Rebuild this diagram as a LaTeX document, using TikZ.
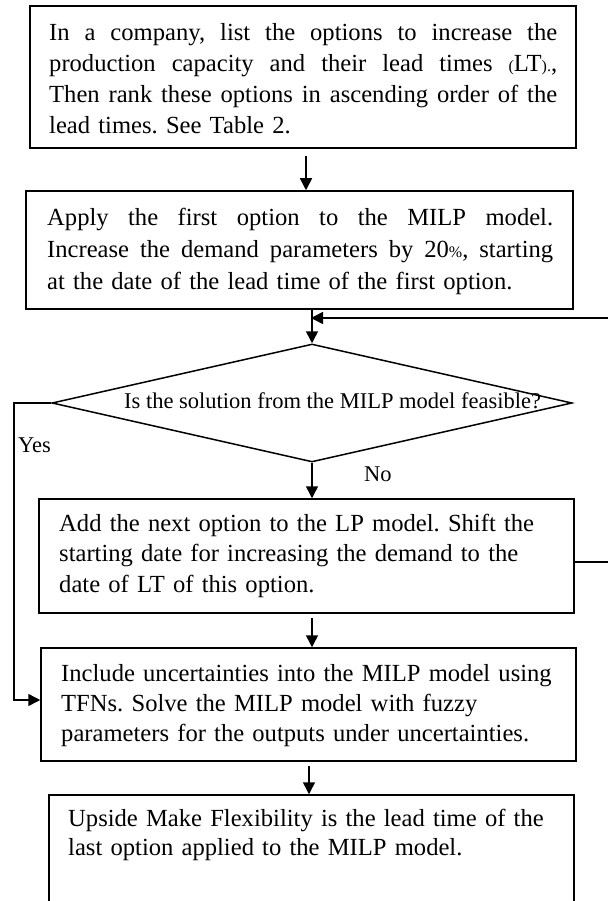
\documentclass[tikz,border=0pt]{standalone}
\usepackage{fontspec}
\setmainfont{Liberation Serif}
\usetikzlibrary{arrows.meta,shapes.geometric}
\frenchspacing

% smaller glyphs inside a line (brackets, percent sign)
\newcommand{\smg}[1]{{\fontsize{16pt}{16pt}\selectfont #1}}
% a fully justified line of given width: every word gap stretches equally
\newcommand{\jline}[2]{\leavevmode\hbox to #1{\spaceskip=0.25em plus 1fil\relax
  \xspaceskip=0.25em plus 1fil\relax #2}}
% strut that fixes the height of a first line
\newcommand{\topstrut}{\rule{0pt}{20pt}}

\begin{document}
\begin{tikzpicture}[x=1pt,y=1pt,
  box/.style={draw, line width=1.5pt, rectangle, inner sep=0pt},
  body/.style={anchor=north west, inner sep=0pt, align=left, text width=535pt,
               font=\fontsize{24.6pt}{#1}\selectfont},
  lbl/.style={anchor=base west, inner sep=0pt, font=\fontsize{22.5pt}{27pt}\selectfont},
  arr/.style={line width=1.5pt, -{Triangle[length=12pt,width=12pt]}},
]
\useasboundingbox (0,0) rectangle (607,-901);

% process boxes
\node[box, minimum width=546pt, minimum height=142pt] (b1) at (303,-77) {};
\node[box, minimum width=547pt, minimum height=118pt] (b2) at (299.5,-250) {};
\node[box, minimum width=535pt, minimum height=114pt] (b3) at (306.5,-556) {};
\node[box, minimum width=535pt, minimum height=113pt] (b4) at (308.5,-704.5) {};
\node[box, minimum width=525pt, minimum height=120pt] (b5) at (311.5,-855) {};

% decision
\node[draw, diamond, line width=1.5pt, inner sep=0pt,
      minimum width=520pt, minimum height=118pt] (dec) at (312,-403) {};

% box texts
\node[body=31pt] (t1) at (49,-20) {\topstrut\jline{508pt}{In a company, list the options to increase the}\\
\jline{508pt}{production capacity and their lead times \smg{(}LT\smg{).},}\\
\jline{508pt}{Then rank these options in ascending order of the}\\
lead times. See Table 2.};

\node[body=32pt] (t2) at (47,-205) {\topstrut\jline{506pt}{Apply the first option to the MILP model.}\\
\jline{506pt}{Increase the demand parameters by 20\smg{\%}, starting}\\
at the date of the lead time of the first option.};

\node[body=30.5pt] (t3) at (59,-511) {\topstrut Add the next option to the LP model. Shift the\\
starting date for increasing the demand to the\\
date of LT of this option.};

\node[body=30pt] (t4) at (61,-661) {\topstrut Include uncertainties into the MILP model using\\
TFNs. Solve the MILP model with fuzzy\\
parameters for the outputs under uncertainties.};

\node[body=29.5pt] (t5) at (68,-806) {\topstrut Upside Make Flexibility is the lead time of the\\
last option applied to the MILP model.};

% decision text and branch labels
\node[lbl] (q) at (124,-408) {Is the solution from the MILP model feasible?};
\node[lbl] (yes) at (18,-452) {Yes};
\node[lbl] (no) at (364,-481) {No};

% helper points for the routed connectors
\coordinate (c1) at (306,0);
\coordinate (c5) at (309,0);
\coordinate (join) at (311,-318);
\coordinate (fbr) at (630,-562);
\coordinate (ycorner) at (14,-403);
\coordinate (yentry) at (14,-700);

% main flow
\draw[arr, shorten <=7pt] (b1.south -| c1) -- (b2.north -| c1);
\draw[arr] (b2.south -| dec.north) -- (dec.north);
\draw[arr] (dec.south) -- (b3.north -| dec.south);
\draw[arr, shorten <=4pt] (b3.south -| dec.south) -- (b4.north -| dec.south);
\draw[arr, shorten <=4pt] (b4.south -| c5) -- (b5.north -| c5);

% loop back from the next-option box to the decision
\draw[arr] (b3.east |- fbr) -- (fbr) -- (fbr |- join) -- (join);

% "Yes" branch
\draw[arr] (dec.west) -- (ycorner) -- (yentry) -- (b4.west |- yentry);
\end{tikzpicture}
\end{document}
